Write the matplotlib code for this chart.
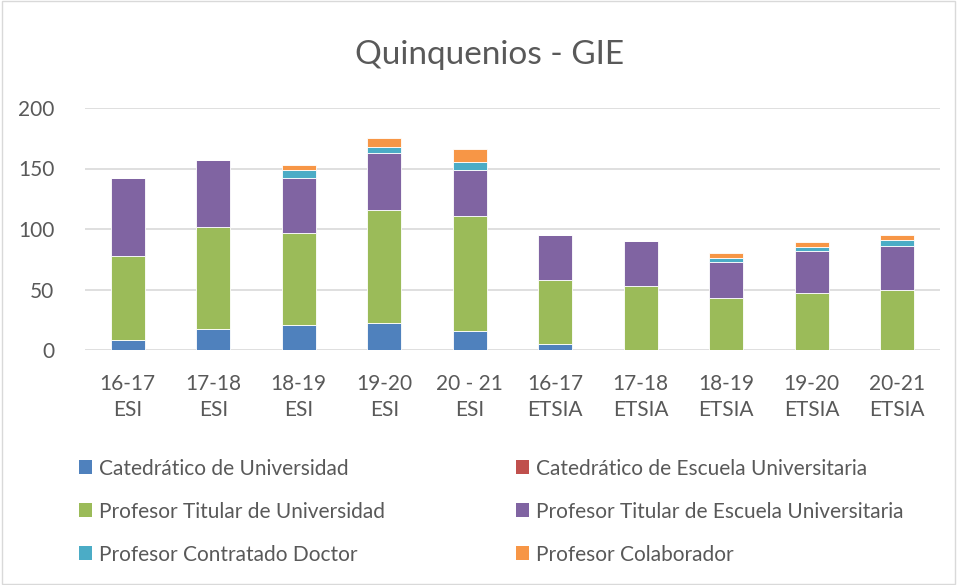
import matplotlib
matplotlib.use("Agg")
import matplotlib.pyplot as plt
from matplotlib.patches import Rectangle, Patch
import numpy as np

categories = ["16-17\nESI", "17-18\nESI", "18-19\nESI", "19-20\nESI", "20 - 21\nESI",
              "16-17\nETSIA", "17-18\nETSIA", "18-19\nETSIA", "19-20\nETSIA", "20-21\nETSIA"]
series_names = ["Catedrático de Universidad", "Catedrático de Escuela Universitaria",
                "Profesor Titular de Universidad", "Profesor Titular de Escuela Universitaria",
                "Profesor Contratado Doctor", "Profesor Colaborador"]
cat_univ = [8, 17, 21, 22, 16, 5, 0, 0, 0, 0]
cat_eu = [0, 0, 0, 0, 0, 0, 0, 0, 0, 0]
tit_univ = [70, 85, 76, 94, 95, 53, 53, 43, 47, 50]
tit_eu = [64, 55, 45, 47, 38, 37, 37, 30, 35, 36]
contr_doc = [0, 0, 7, 5, 6, 0, 0, 3, 3, 5]
colab = [0, 0, 4, 7, 11, 0, 0, 4, 4, 4]
colors = ["#4F81BD", "#C0504D", "#9BBB59", "#8064A2", "#4BACC6", "#F79646"]
yticks = [0, 50, 100, 150, 200]

plt.rcParams['font.family'] = ['Lato', 'DejaVu Sans']
fig = plt.figure(figsize=(9.57, 5.85), dpi=100)
fig.patches.append(Rectangle((0.002, 0.002), 0.996, 0.996, transform=fig.transFigure,
                             fill=False, edgecolor="#d9d9d9", linewidth=1))
ax = fig.add_axes([85/957, 1-350/585, 855/957, 242/585])
x = np.arange(len(categories))
bottom = np.zeros(len(categories))
data = [cat_univ, cat_eu, tit_univ, tit_eu, contr_doc, colab]
handles = []
for name, vals, c in zip(series_names, data, colors):
    vals = np.array(vals, dtype=float)
    ax.bar(x, vals, 0.4, bottom=bottom, color=c, edgecolor="white", linewidth=0.6, label=name, zorder=3)
    bottom += vals
    handles.append(Patch(facecolor=c, label=name))
ax.set_xlim(-0.5, len(categories) - 0.5)
ax.set_ylim(0, 200)
ax.set_yticks(yticks)
ax.set_xticks(x)
ax.set_xticklabels(categories, fontsize=15, color="#595959", linespacing=1.4)
ax.tick_params(axis='y', labelsize=15, colors="#595959", length=0, pad=22)
ax.tick_params(axis='x', length=0, pad=17)
ax.grid(axis='y', color="#d9d9d9", linewidth=1.2, zorder=0)
for s in ax.spines.values():
    s.set_visible(False)
fig.text(490/957, 1-55/585, "Quinquenios - GIE",
         ha="center", va="center", fontsize=24, color="#595959")
order = [0, 2, 4, 1, 3, 5]
leg = fig.legend([handles[i] for i in order], [series_names[i] for i in order], ncol=2,
                 loc="upper left", bbox_to_anchor=(60/957, 1-440/585), frameon=False,
                 fontsize=15, handlelength=0.65, handleheight=0.65, handletextpad=0.3,
                 labelspacing=1.1, columnspacing=6.3, labelcolor="#595959")
fig.savefig("out.png", dpi=100)
